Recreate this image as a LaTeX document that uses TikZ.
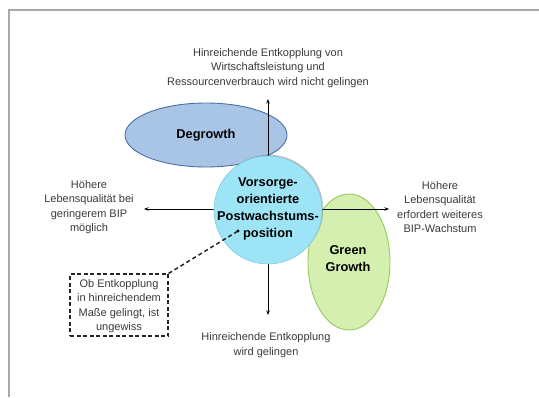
\documentclass[tikz,border=0pt]{standalone}
\usepackage{fontspec}
\setmainfont{Liberation Sans}
\usetikzlibrary{arrows.meta,shadows,shapes.geometric}
\definecolor{framec}{HTML}{A8A8A8}
\definecolor{dgfill}{HTML}{A9C5E6}
\definecolor{dgdraw}{HTML}{4A6FA5}
\definecolor{ggfill}{HTML}{D5EFB0}
\definecolor{ggdraw}{HTML}{94C95C}
\definecolor{cfill}{HTML}{9EE4F7}
\definecolor{cdraw}{HTML}{7FCBE0}
\definecolor{txt}{HTML}{3A3A3A}
\tikzset{
  lbl/.style={align=center, text=txt, font=\fontsize{11}{14.5}\selectfont, inner sep=0pt},
  bold/.style={align=center, text=black, font=\bfseries\fontsize{12.8}{17}\selectfont, inner sep=0pt},
  axis/.style={line width=0.9pt, -{Stealth[length=4.5pt,width=3.5pt]}},
  dgstyle/.style={ellipse, fill=dgfill, draw=dgdraw, line width=0.9pt, minimum width=162pt, minimum height=64pt, inner sep=0pt},
  ggstyle/.style={ellipse, fill=ggfill, draw=ggdraw, line width=0.9pt, minimum width=82pt, minimum height=136pt, inner sep=0pt},
  core/.style={circle, fill=cfill, draw=cdraw, line width=0.6pt, minimum size=108pt, inner sep=0pt,
    drop shadow={shadow xshift=1.2pt, shadow yshift=1.2pt, opacity=0.35, fill=black!70}},
  dashbox/.style={draw=black!85, line width=1.1pt, dash pattern=on 4pt off 2.5pt, minimum width=98pt, minimum height=62pt, inner sep=0pt},
}
\begin{document}
\begin{tikzpicture}[x=1pt,y=-1pt]
\useasboundingbox (0,0) rectangle (539,397);
\draw[framec, line width=1.5pt] (9,397) -- (9,10) -- (539,10);

% ellipses
\node[dgstyle] (dg) at (206,135) {};
\node[ggstyle] (gg) at (349,262) {};

% axes
\coordinate (o) at (268,209);
\coordinate (tp) at (268,99);
\coordinate (bt) at (268,315);
\coordinate (lf) at (144,209);
\coordinate (rt) at (389,209);
\draw[axis] (o) -- (tp);
\draw[axis] (o) -- (bt);
\draw[axis] (o) -- (lf);
\draw[axis] (o) -- (rt);

% central circle
\node[core] (c) at (268,210) {};
\node[bold] (ctext) at (268,208.5) {Vorsorge-\\orientierte\\Postwachstums-\\position};

% ellipse labels
\node[bold] (dglabel) at (206,135) {Degrowth};
\node[bold] (gglabel) at (348,258.5) {Green\\Growth};

% axis labels
\node[lbl] (ttext) at (268,68) {Hinreichende Entkopplung von\\Wirtschaftsleistung und\\Ressourcenverbrauch wird nicht gelingen};
\node[lbl] (btext) at (266,345) {Hinreichende Entkopplung\\wird gelingen};
\node[lbl] (ltext) at (89,207) {Höhere\\Lebensqualität bei\\geringerem BIP\\möglich};
\node[lbl] (rtext) at (440,207) {Höhere\\Lebensqualität\\erfordert weiteres\\BIP-Wachstum};

% dashed box
\node[dashbox] (box) at (119,305) {};
\node[lbl] (boxtext) at (119,306) {Ob Entkopplung\\in hinreichendem\\Maße gelingt, ist\\ungewiss};
\coordinate (dot) at (238,231);
\draw[black!85, line width=1.5pt, dash pattern=on 4pt off 3pt] (box.north east) -- (dot);
\fill[black] (dot) circle (1.6pt);
\end{tikzpicture}
\end{document}
